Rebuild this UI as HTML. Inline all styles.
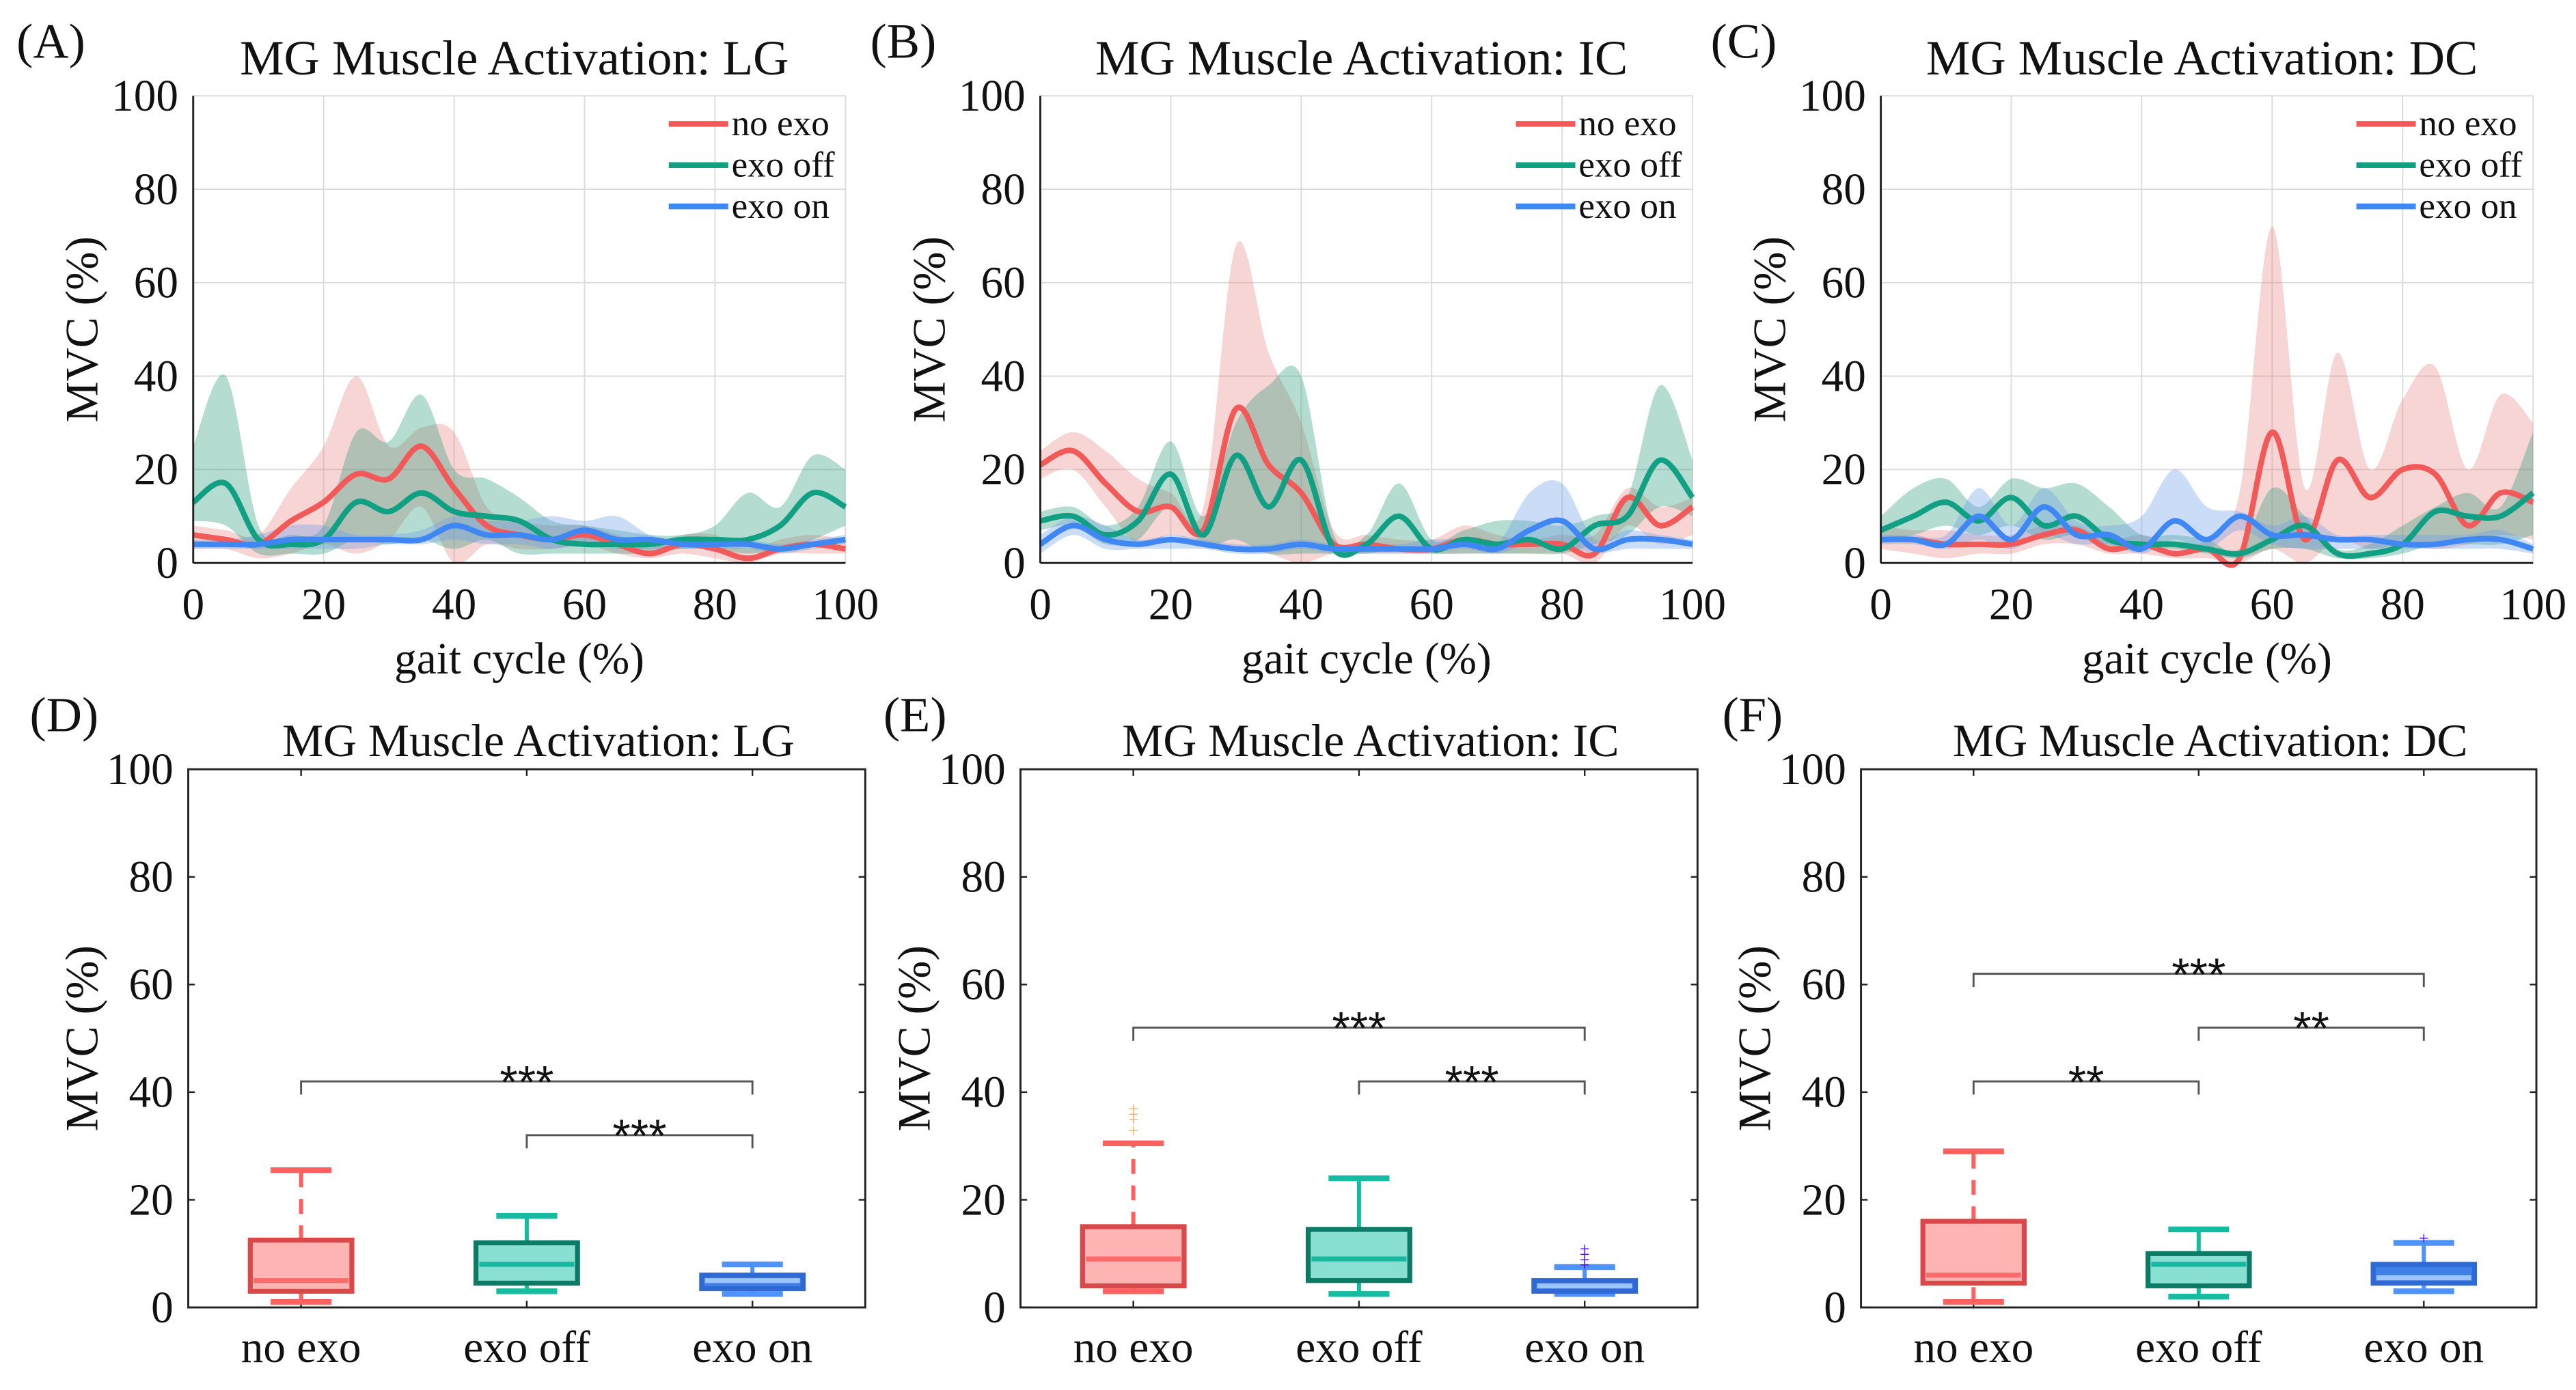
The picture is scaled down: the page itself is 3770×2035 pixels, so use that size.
<!DOCTYPE html>
<html><head><meta charset="utf-8">
<style>
html,body{margin:0;padding:0;background:#fff;}
svg{display:block;}
svg text{font-family:"Liberation Serif","Times New Roman",serif;fill:#111;}
</style></head>
<body>
<svg id="fig" width="3770" height="2035" viewBox="0 0 1560 842" xmlns="http://www.w3.org/2000/svg" font-family="Liberation Serif, serif"></svg>
<script>
// ---------- DATA ----------
const gaitX = [0,5,10,15,20,25,30,35,40,45,50,55,60,65,70,75,80,85,90,95,100];
const xTicks = [0,20,40,60,80,100];
const yTicks = [0,20,40,60,80,100];
const seriesNames = ["no exo","exo off","exo on"];
const panelTitles = ["MG Muscle Activation: LG","MG Muscle Activation: IC","MG Muscle Activation: DC"];
// Panel A (LG)
const aNoMean=[6,5,4,9,13,19,18,25,16,8,6,5,6,4,2,4,3,1,3,4,3];
const aNoLo=[3,3,1,2,4,2,5,12,0,4,3,3,4,2,1,2,1,0,2,2,2];
const aNoHi=[8,7,6,16,25,40,25,29,28,12,9,8,8,6,4,6,6,3,5,6,5];
const aOffMean=[13,17,5,4,5,13,11,15,11,10,9,5,4,4,4,5,5,5,8,15,12];
const aOffLo=[9,8,2,2,2,5,4,5,3,5,2,2,2,2,2,3,3,2,3,5,8];
const aOffHi=[25,40,8,6,8,28,26,36,20,18,14,9,8,7,6,6,8,15,12,23,20];
const aOnMean=[4,4,4,5,5,5,5,5,8,6,6,5,7,5,5,4,4,4,3,4,5];
const aOnLo=[3,3,3,3,3,3,4,4,5,4,4,3,4,3,3,3,3,3,2,3,4];
const aOnHi=[5,5,6,8,8,6,6,7,10,9,9,10,9,10,6,5,5,5,4,5,6];
// Panel B (IC)
const bNoMean=[21,24,17,11,12,7,33,21,15,4,4,3,3,5,4,4,4,2,14,8,12];
const bNoLo=[18,20,12,4,6,4,3,2,0,2,2,2,2,2,2,2,2,0,8,4,6];
const bNoHi=[24,28,24,18,15,12,68,45,30,7,6,5,5,8,6,5,6,6,16,12,14];
const bOffMean=[9,10,6,9,19,6,23,12,22,3,4,10,3,5,4,5,3,8,10,22,14];
const bOffLo=[7,8,4,5,12,4,5,2,2,2,2,3,2,2,2,2,2,4,6,12,10];
const bOffHi=[11,12,8,12,26,10,30,38,40,6,6,17,5,7,9,9,8,10,14,38,22];
const bOnMean=[4,8,5,4,5,4,3,3,4,3,3,3,3,4,3,7,9,3,5,5,4];
const bOnLo=[2,6,3,3,3,3,2,2,3,2,2,2,2,3,2,4,4,2,3,3,3];
const bOnHi=[6,10,8,5,6,5,4,4,5,4,4,4,5,5,4,15,17,5,7,6,5];
// Panel C (DC)
const cNoMean=[5,5,4,4,4,6,7,3,4,2,3,1,28,5,22,14,20,19,8,15,13];
const cNoLo=[3,2,1,2,2,4,4,2,2,1,1,0,3,0,5,3,4,3,4,6,5];
const cNoHi=[8,7,7,6,6,8,8,5,6,4,5,15,72,16,45,20,35,42,20,36,30];
const cOffMean=[7,10,13,9,14,8,10,5,4,4,3,2,5,8,2,2,4,11,10,10,15];
const cOffLo=[5,6,8,6,8,5,6,3,3,3,2,1,3,3,1,1,2,4,4,4,6];
const cOffHi=[10,16,18,12,18,16,17,12,6,6,5,3,16,10,3,4,8,12,15,12,28];
const cOnMean=[5,5,4,10,5,12,6,6,3,9,5,10,6,6,5,5,4,4,5,5,3];
const cOnLo=[4,4,3,5,3,6,4,4,2,5,3,7,4,3,3,3,3,3,3,3,2];
const cOnHi=[6,6,6,16,8,16,9,8,10,20,12,11,8,10,6,6,6,6,6,7,4];
// Box plots: [min, q1, median, q3, max]
const boxLG=[[1,3,5,12.5,25.5],[3,4.5,8,12,17],[2.5,3.5,5,6,8]];
const boxIC=[[3,4,9,15,30.5],[2.5,5,9,14.5,24],[2.5,3,4,5,7.5]];
const boxDC=[[1,4.5,6,16,29],[2,4,8,10,14.5],[3,4.5,5.5,8,12]];
const outIC0=[33,35,36,37];
const outIC2=[8,9,10,11];
const outDC2=[13];
// significance brackets [from, to, level, label]
const sigLG=[[0,2,42,"***"],[1,2,32,"***"]];
const sigIC=[[0,2,52,"***"],[1,2,42,"***"]];
const sigDC=[[0,2,62,"***"],[1,2,52,"**"],[0,1,42,"**"]];

// ---------- RENDER ----------
const NS="http://www.w3.org/2000/svg";
const svg=document.getElementById('fig');
function mk(tag,attrs,parent){const e=document.createElementNS(NS,tag);for(const k in attrs)e.setAttribute(k,attrs[k]);(parent||svg).appendChild(e);return e;}
function txt(s,x,y,size,anchor,parent){const t=mk('text',{x:x,y:y,'font-size':size,'text-anchor':anchor||'middle','font-family':'Liberation Serif, serif'},parent);t.textContent=s;return t;}
const COL=["#f25a5a","#12a084","#3f87f2"];
const FILLS=["#e88888","#2a9a7c","#6a9ae8"];

function smooth(pts){let d="M"+pts[0][0]+","+pts[0][1];for(let i=0;i<pts.length-1;i++){const p0=pts[i-1]||pts[i],p1=pts[i],p2=pts[i+1],p3=pts[i+2]||p2;
const c1x=p1[0]+(p2[0]-p0[0])/6,c1y=p1[1]+(p2[1]-p0[1])/6,c2x=p2[0]-(p3[0]-p1[0])/6,c2y=p2[1]-(p3[1]-p1[1])/6;
d+=" C"+c1x+","+c1y+" "+c2x+","+c2y+" "+p2[0]+","+p2[1];}return d;}

const topPanels=[
 {L:117,letter:"(A)",lx:10,data:[[aNoMean,aNoLo,aNoHi],[aOffMean,aOffLo,aOffHi],[aOnMean,aOnLo,aOnHi]]},
 {L:630,letter:"(B)",lx:527,data:[[bNoMean,bNoLo,bNoHi],[bOffMean,bOffLo,bOffHi],[bOnMean,bOnLo,bOnHi]]},
 {L:1139,letter:"(C)",lx:1036,data:[[cNoMean,cNoLo,cNoHi],[cOffMean,cOffLo,cOffHi],[cOnMean,cOnLo,cOnHi]]}
];
const TW=395,TT=58,TB=341;
topPanels.forEach((p,pi)=>{
 const g=mk('g',{});
 
 
 const xs=v=>p.L+v/100*TW, ys=v=>TB-v/100*(TB-TT);
 xTicks.forEach(t=>{const l=mk('line',{x1:xs(t),x2:xs(t),y1:TT,y2:TB,stroke:'#dcdcdc','stroke-width':0.8},g);});
 yTicks.forEach(t=>{const l=mk('line',{x1:p.L,x2:p.L+TW,y1:ys(t),y2:ys(t),stroke:'#dcdcdc','stroke-width':0.8},g);});
 p.data.forEach((s,si)=>{
  const up=gaitX.map((x,i)=>[xs(x),ys(s[2][i])]);
  const lo=gaitX.map((x,i)=>[xs(x),ys(s[1][i])]).reverse();
  const sl=smooth(lo);
  let d=smooth(up)+" L"+lo[0][0]+","+lo[0][1]+sl.slice(sl.indexOf(' '))+" Z";
  const b=mk('path',{d:d,fill:FILLS[si],'fill-opacity':0.35,stroke:'none'},g);
  
  
 });
 p.data.forEach((s,si)=>{
  const pts=gaitX.map((x,i)=>[xs(x),ys(s[0][i])]);
  const l=mk('path',{d:smooth(pts),fill:'none',stroke:COL[si],'stroke-width':3.4,'stroke-linejoin':'round'},g);
  
  
 });
 mk('line',{x1:p.L,x2:p.L,y1:TT,y2:TB,stroke:'#222','stroke-width':1.2},g);
 mk('line',{x1:p.L,x2:p.L+TW,y1:TB,y2:TB,stroke:'#222','stroke-width':1.2},g);
 xTicks.forEach(t=>{const e=txt(String(t),xs(t),375,27,'middle',g);});
 yTicks.forEach(t=>{const e=txt(String(t),p.L-9,ys(t)+9,27,'end',g);});
 const xt=txt("gait cycle (%)",p.L+TW/2,408,27,'middle',g);
 const yt=txt("MVC (%)",0,0,28,'middle',g);yt.setAttribute('transform','translate('+(p.L-58)+','+(TT+(TB-TT)/2)+') rotate(-90)');
 const ti=txt(panelTitles[pi],p.L+TW/2-3,45,30,'middle',g);
 const lt=txt(p.letter,p.lx,35,30,'start',g);
 seriesNames.forEach((n,si)=>{const y=75+si*25;
  const ll=mk('line',{x1:p.L+288,x2:p.L+324,y1:y,y2:y,stroke:COL[si],'stroke-width':3.5},g);
  const lx=txt(n,p.L+326,y+7,22,'start',g);});
});

const boxPanels=[
 {L:114,W:410,letter:"(D)",lx:18,title:panelTitles[0],box:boxLG,sig:sigLG,outs:[[],[],[]]},
 {L:618,W:410,letter:"(E)",lx:535,title:panelTitles[1],box:boxIC,sig:sigIC,outs:[outIC0,[],outIC2]},
 {L:1127,W:409,letter:"(F)",lx:1043,title:panelTitles[2],box:boxDC,sig:sigDC,outs:[[],[],outDC2]}
];
const BT=466,BB=792;
const boxFill=["#ffb4b4","#8adfd3","#3f7fe6"];
const boxEdge=["#d9484b","#0d7a66","#2f6ad4"];
const boxMed=["#ff6a6a","#18b69e","#9cc4ff"];
const whisk=["#ff6060","#16bca2","#4d92ff"];
const outCol=["#ffaa55","#16bca2","#4b00ff"];
boxPanels.forEach((p,pi)=>{
 const g=mk('g',{});
 
 
 const xs=i=>p.L+p.W*(2*i+1)/6, ys=v=>BB-v/100*(BB-BT);
 mk('rect',{x:p.L,y:BT,width:p.W,height:BB-BT,fill:'none',stroke:'#222','stroke-width':1.2},g);
 yTicks.forEach(t=>{mk('line',{x1:p.L,x2:p.L+4,y1:ys(t),y2:ys(t),stroke:'#222'},g);mk('line',{x1:p.L+p.W-4,x2:p.L+p.W,y1:ys(t),y2:ys(t),stroke:'#222'},g);
  const e=txt(String(t),p.L-9,ys(t)+9,27,'end',g);});
 seriesNames.forEach((n,i)=>{mk('line',{x1:xs(i),x2:xs(i),y1:BT,y2:BT+4,stroke:'#222'},g);mk('line',{x1:xs(i),x2:xs(i),y1:BB-4,y2:BB,stroke:'#222'},g);
  const e=txt(n,xs(i),825,27,'middle',g);});
 p.box.forEach((b,i)=>{const cx=xs(i),hw=p.W*0.075,cw=p.W*0.045;
  const w1=mk('line',{x1:cx,x2:cx,y1:ys(b[3]),y2:ys(b[4]),stroke:whisk[i],'stroke-width':2.5,'stroke-dasharray':i==0?'9,7':'none'},g);
  const w2=mk('line',{x1:cx,x2:cx,y1:ys(b[0]),y2:ys(b[1]),stroke:whisk[i],'stroke-width':2.5,'stroke-dasharray':i==0?'9,7':'none'},g);
  [b[0],b[4]].forEach(v=>{const c=mk('line',{x1:cx-cw,x2:cx+cw,y1:ys(v),y2:ys(v),stroke:whisk[i],'stroke-width':3.5},g);});
  const r=mk('rect',{x:cx-hw,y:ys(b[3]),width:2*hw,height:ys(b[1])-ys(b[3]),fill:boxFill[i],stroke:boxEdge[i],'stroke-width':3},g);
  const m=mk('line',{x1:cx-hw+2,x2:cx+hw-2,y1:ys(b[2]),y2:ys(b[2]),stroke:boxMed[i],'stroke-width':3},g);
  p.outs[i].forEach(v=>{const o=txt("+",cx,ys(v)+4,11,'middle',g);o.setAttribute('style','fill:'+outCol[i]);});
 });
 p.sig.forEach(s=>{const y=ys(s[2]),x1=xs(s[0]),x2=xs(s[1]);
  const br=mk('path',{d:'M'+x1+','+(y+8)+' V'+y+' H'+x2+' V'+(y+8),fill:'none',stroke:'#555','stroke-width':1.2},g);
  const st=txt(s[3],(x1+x2)/2,y+10,28,'middle',g);st.setAttribute('style','font-family:"Liberation Sans",sans-serif');});
 const yt=txt("MVC (%)",0,0,28,'middle',g);yt.setAttribute('transform','translate('+(p.L-55)+','+(BT+(BB-BT)/2)+') rotate(-90)');
 const ti=txt(p.title,p.L+p.W/2+7,458,28,'middle',g);
 const lt=txt(p.letter,p.lx,443,30,'start',g);
});
</script>
</body></html>
